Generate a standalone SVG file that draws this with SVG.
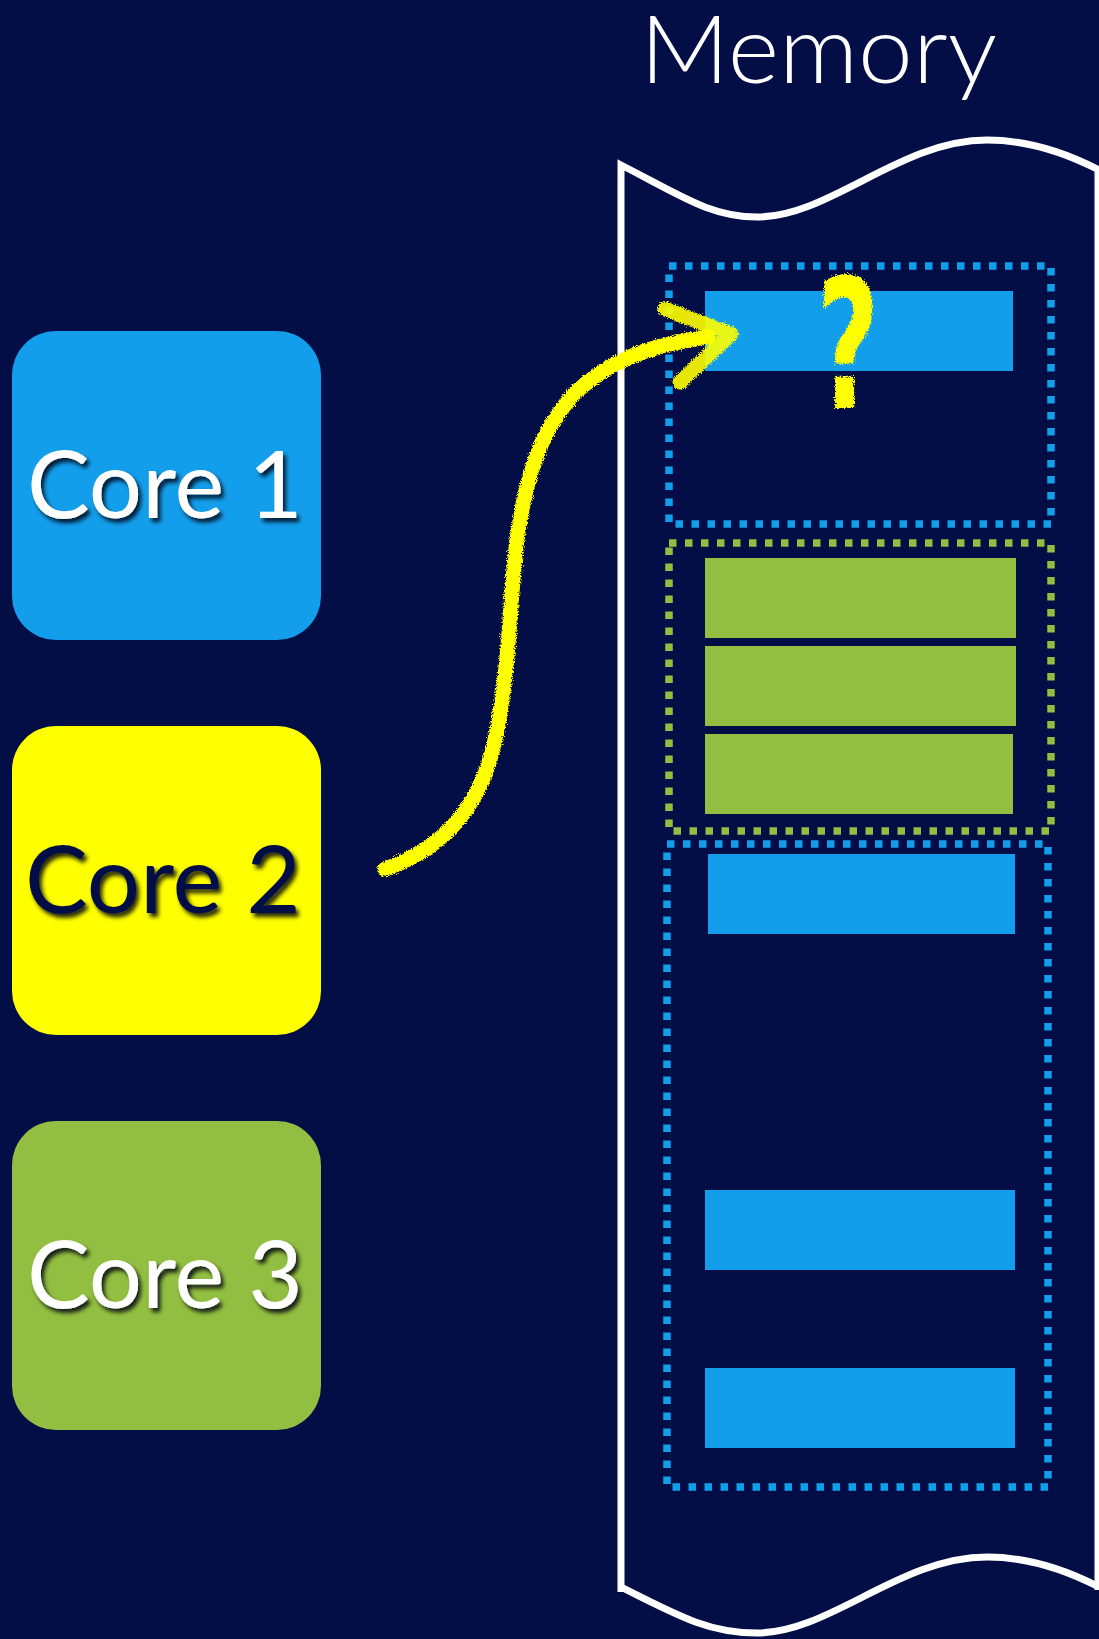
<svg xmlns="http://www.w3.org/2000/svg" width="1099" height="1639" viewBox="0 0 1099 1639">
  <defs>
    <style>
      .core-label { font-family: "Lato", "Open Sans", "Liberation Sans", sans-serif; font-size: 94px; }
      .light { fill: #ffffff; }
      .dark { fill: #030e47; }
      .blue-dots { fill: none; stroke: #139eec; stroke-width: 7.5; stroke-dasharray: 7.5 8.5; }
      .green-dots { fill: none; stroke: #92bf41; stroke-width: 7.5; stroke-dasharray: 7.5 8.5; }
      .cell-blue { fill: #139eec; }
      .cell-green { fill: #92bf41; }
      .outline { fill: none; stroke: #ffffff; stroke-width: 7; stroke-linejoin: miter; }
      .crayon { fill: none; stroke: #ffff00; stroke-width: 15; stroke-linecap: round; stroke-linejoin: round; }
    </style>
    <filter id="shadow" x="-10%" y="-10%" width="130%" height="130%">
      <feDropShadow dx="3" dy="4" stdDeviation="2" flood-color="#000010" flood-opacity="0.85"/>
    </filter>
    <filter id="rough" x="-10%" y="-10%" width="120%" height="120%">
      <feTurbulence type="fractalNoise" baseFrequency="0.9" numOctaves="2" seed="3" result="noise"/>
      <feDisplacementMap in="SourceGraphic" in2="noise" scale="6" xChannelSelector="R" yChannelSelector="G" result="moved"/>
      <feGaussianBlur in="moved" stdDeviation="0.7"/>
    </filter>
  </defs>

  <rect width="1099" height="1639" fill="#030e47"/>

  <!-- title -->
  <text id="memory-title" x="640" y="83" textLength="357" lengthAdjust="spacingAndGlyphs"
        font-family="Lato, 'Open Sans', 'Liberation Sans', sans-serif" font-weight="300" font-size="94" fill="#ffffff">Memory</text>

  <!-- memory strip outline with torn top and bottom edges -->
  <g id="memory">
    <path class="outline" d="M621,1592 L621,165 C680,195 710,217 757,217 C830,217 900,140 987,140 C1030,140 1070,155 1099,170"/>
    <path class="outline" d="M621,1587 C680,1617 710,1633 757,1633 C830,1633 900,1557 987,1557 C1030,1557 1070,1572 1099,1587"/>
    <line class="outline" x1="1098" y1="168" x2="1098" y2="1590" stroke-width="5"/>
  </g>

  <!-- region owned by core 1 (top) -->
  <g id="region-core1-a">
    <rect class="blue-dots" x="669" y="266" width="382" height="258"/>
    <rect class="cell-blue" x="705" y="291" width="308" height="80"/>
  </g>

  <!-- region owned by core 3 -->
  <g id="region-core3">
    <rect class="green-dots" x="669" y="543" width="382" height="288"/>
    <rect class="cell-green" x="705" y="558" width="311" height="80"/>
    <rect class="cell-green" x="705" y="646" width="311" height="80"/>
    <rect class="cell-green" x="705" y="734" width="308" height="80"/>
  </g>

  <!-- region owned by core 1 (lower) -->
  <g id="region-core1-b">
    <rect class="blue-dots" x="667" y="844" width="381" height="643"/>
    <rect class="cell-blue" x="708" y="854" width="307" height="80"/>
    <rect class="cell-blue" x="705" y="1190" width="310" height="80"/>
    <rect class="cell-blue" x="705" y="1368" width="310" height="80"/>
  </g>

  <!-- cores -->
  <g id="core1">
    <rect x="12" y="331" width="309" height="309" rx="44" fill="#139eec"/>
    <text class="core-label light" x="27" y="518" filter="url(#shadow)">Core 1</text>
  </g>
  <g id="core2">
    <rect x="12" y="726" width="309" height="309" rx="44" fill="#ffff00"/>
    <text class="core-label dark" x="25" y="913" filter="url(#shadow)">Core 2</text>
  </g>
  <g id="core3">
    <rect x="12" y="1121" width="309" height="309" rx="44" fill="#92bf41"/>
    <text class="core-label light" x="27" y="1308" filter="url(#shadow)">Core 3</text>
  </g>

  <!-- hand-drawn access arrow from core 2 into the first blue cell -->
  <g id="connectors" filter="url(#rough)">
    <path class="crayon" d="M385,869 C440,850 480,810 495,740 C510,670 510,590 517,540 C525,480 540,430 575,393 C610,360 650,345 708,337"/>
    <path class="crayon" d="M665,309 L731,334 L680,382" opacity="0.9"/>
  </g>

  <!-- scribbled question mark on the contested cell -->
  <g id="question" filter="url(#rough)">
    <text x="0" y="0" transform="translate(848,408) scale(0.6,1)" text-anchor="middle"
          font-family="'DejaVu Sans', 'Liberation Sans', sans-serif" font-weight="bold" font-size="180" fill="#ffff00">?</text>
  </g>
</svg>
